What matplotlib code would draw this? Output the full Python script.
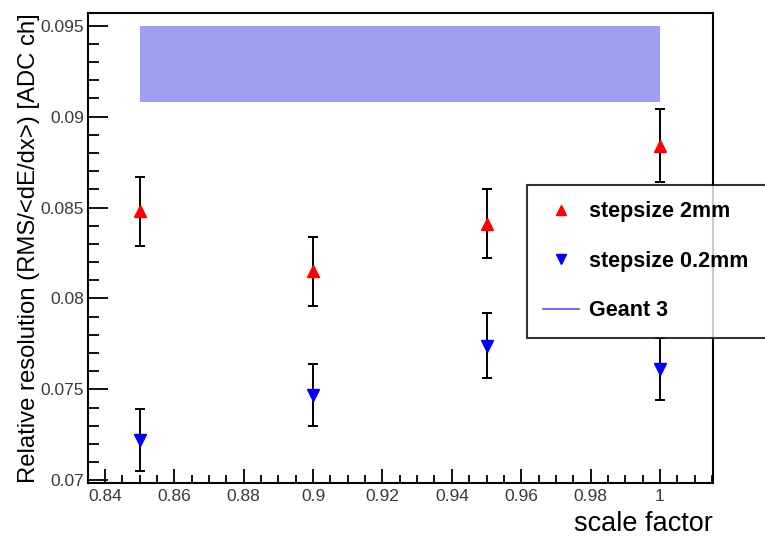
import matplotlib
matplotlib.use("Agg")
import matplotlib.pyplot as plt
from matplotlib.lines import Line2D
from matplotlib.ticker import MultipleLocator, FuncFormatter

plt.rcParams['font.family'] = ['Liberation Sans', 'DejaVu Sans']

# data
scale = [0.85, 0.90, 0.95, 1.00]
res_2mm = [0.0848, 0.0815, 0.0841, 0.0884]
err_2mm = [0.0019, 0.0019, 0.0019, 0.0020]
res_02mm = [0.0722, 0.0747, 0.0774, 0.0761]
err_02mm = [0.0017, 0.0017, 0.0018, 0.0017]
geant3_x = [0.85, 1.00]
geant3_center = 0.0929
geant3_halfwidth = 0.0021
labels = ["stepsize 2mm", "stepsize 0.2mm", "Geant 3"]

fig = plt.figure(figsize=(7.65, 5.44), dpi=100)
ax = fig.add_axes([88/765, 1-483/544, (713-88)/765, (483-13)/544])

ax.fill_between(geant3_x, geant3_center-geant3_halfwidth, geant3_center+geant3_halfwidth,
                facecolor='#a0a0f2', edgecolor='none', zorder=1)

ax.errorbar(scale, res_2mm, yerr=err_2mm, fmt='none', ecolor='black', elinewidth=1.4,
            capsize=3.5, capthick=1.4, zorder=2)
ax.plot(scale, res_2mm, linestyle='none', marker='^', color='red', markersize=9, zorder=3)
ax.errorbar(scale, res_02mm, yerr=err_02mm, fmt='none', ecolor='black', elinewidth=1.4,
            capsize=3.5, capthick=1.4, zorder=2)
ax.plot(scale, res_02mm, linestyle='none', marker='v', color='blue', markersize=9, zorder=3)

ax.set_xlim(0.8351, 1.0153)
ax.set_ylim(0.06985, 0.0957)

ax.xaxis.set_major_locator(MultipleLocator(0.02))
ax.xaxis.set_minor_locator(MultipleLocator(0.005))
ax.yaxis.set_major_locator(MultipleLocator(0.005))
ax.yaxis.set_minor_locator(MultipleLocator(0.001))

def fmt(v, pos):
    s = ('%.3f' % v).rstrip('0').rstrip('.')
    return s
ax.xaxis.set_major_formatter(FuncFormatter(fmt))
ax.yaxis.set_major_formatter(FuncFormatter(fmt))

ax.tick_params(which='both', direction='in', top=False, right=False, width=1.3,
               labelsize=12.5, labelcolor='#3a3a3a')
ax.tick_params(axis='y', which='major', length=14.5, pad=3)
ax.tick_params(axis='y', which='minor', length=8)
ax.tick_params(axis='x', which='major', length=10, pad=4)
ax.tick_params(axis='x', which='minor', length=5.8)
for sp in ax.spines.values():
    sp.set_linewidth(1.5)

ax.set_ylabel("Relative resolution (RMS/<dE/dx>) [ADC ch]", fontsize=17.2, loc='top')
ax.yaxis.set_label_coords((40-88)/625, 1.0)
ax.set_xlabel("scale factor", fontsize=19.5, loc='right')
ax.xaxis.set_label_coords(1.0, (483-511)/470)
ax.xaxis.label.set_verticalalignment('top')

handles = [
    Line2D([], [], linestyle='none', marker='^', color='red', markersize=6.5),
    Line2D([], [], linestyle='none', marker='v', color='blue', markersize=6.5),
    Line2D([], [], color='#5555ee', linewidth=1.2),
]
leg = ax.legend(handles, labels, loc='upper left',
                bbox_to_anchor=(0.702, 0.634, 0.42, 0.0), mode='expand',
                borderaxespad=0, frameon=True, fancybox=False, edgecolor='black',
                handlelength=1.67, handletextpad=0.47, labelspacing=1.33,
                borderpad=0.75, prop={'weight': 'bold', 'size': 15.5})
leg.get_frame().set_linewidth(1.5)
leg.set_clip_on(False)

fig.savefig("out.png", dpi=100)
